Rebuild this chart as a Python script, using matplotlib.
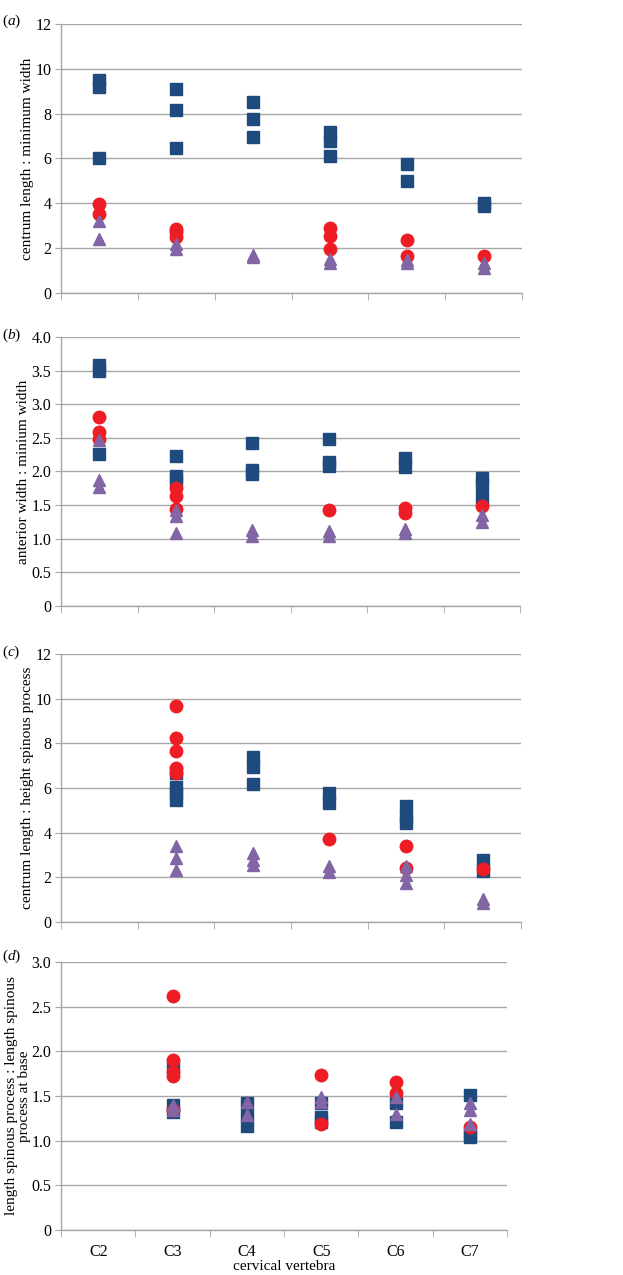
import numpy as np
import matplotlib
matplotlib.use("Agg")
import matplotlib.pyplot as plt

plt.rcParams['font.family'] = ['Liberation Serif', 'DejaVu Serif']
plt.rcParams['mathtext.fontset'] = 'custom'
plt.rcParams['mathtext.it'] = 'Liberation Serif:italic'
plt.rcParams['mathtext.rm'] = 'Liberation Serif'

vertebrae = ['C2', 'C3', 'C4', 'C5', 'C6', 'C7']

# (a) centrum length : minimum width  -- one list of values per vertebra
a_squares = [[9.5, 9.2, 6.0], [9.1, 8.17, 6.46], [8.54, 7.77, 6.95],
             [7.16, 6.76, 6.09], [5.75, 4.98], [4.01, 3.9]]
a_circles = [[3.98, 3.52], [2.85, 2.7, 2.5], [], [2.9, 2.53, 1.96],
             [2.38, 1.66], [1.66]]
a_triangles = [[3.2, 2.4], [2.2, 1.95], [1.7, 1.62], [1.52, 1.34],
               [1.49, 1.34], [1.34, 1.11]]

# (b) anterior width : minium width
b_squares = [[3.58, 3.49, 2.26], [2.23, 1.94, 1.87], [2.43, 2.02, 1.96],
             [2.48, 2.14, 2.08], [2.2, 2.07], [1.9, 1.8, 1.6]]
b_circles = [[2.81, 2.59, 2.49], [1.76, 1.64, 1.44], [], [1.43],
             [1.45, 1.39], [1.48]]
b_triangles = [[2.47, 1.87, 1.77], [1.43, 1.34, 1.09], [1.13, 1.04],
               [1.12, 1.04], [1.15, 1.09], [1.35, 1.25]]

# (c) centrum length : height spinous process
c_squares = [[], [6.65, 6.06, 5.76, 5.46], [7.4, 6.95, 6.18],
             [5.76, 5.34], [5.17, 4.72, 4.42], [2.78, 2.26]]
c_circles = [[], [9.66, 8.22, 7.67, 6.88, 6.68], [], [3.71],
             [3.38, 2.41], [2.37]]
c_triangles = [[], [3.38, 2.86, 2.34], [3.08, 2.78, 2.56], [2.49, 2.23],
               [2.49, 2.11, 1.74], [1.03, 0.85]]

# (d) length spinous process : length spinous process at base
d_squares = [[], [1.83, 1.4, 1.32], [1.42, 1.29, 1.16],
             [1.42, 1.27, 1.21], [1.42, 1.21], [1.51, 1.08, 1.04]]
d_circles = [[], [2.62, 1.9, 1.77, 1.72, 1.34], [], [1.74, 1.19],
             [1.66, 1.53], [1.15]]
d_triangles = [[], [1.4, 1.34], [1.43, 1.29], [1.49, 1.43],
               [1.49, 1.3], [1.42, 1.34, 1.19]]

panels = [
    ('a', 'centrum length : minimum width', a_squares, a_circles, a_triangles,
     12, 2, '{:.0f}'),
    ('b', 'anterior width : minium width', b_squares, b_circles, b_triangles,
     4.0, 0.5, '{:.1f}'),
    ('c', 'centrum length : height spinous process', c_squares, c_circles,
     c_triangles, 12, 2, '{:.0f}'),
    ('d', 'length spinous process : length spinous\nprocess at base',
     d_squares, d_circles, d_triangles, 3.0, 0.5, '{:.1f}'),
]

# axes boxes in figure fractions [left, bottom, width, height]
boxes = [[0.098, 0.7702, 0.740, 0.211],
         [0.098, 0.5247, 0.737, 0.211],
         [0.098, 0.2769, 0.738, 0.2102],
         [0.098, 0.0353, 0.716, 0.2102]]
label_y = [0.990, 0.744, 0.495, 0.257]
ylabel_x = [-0.072, -0.082, -0.072, -0.096]

blue = '#1f4a7e'
red = '#ee1d25'
purple = '#8165a5'
grid_col = '#a6a6a6'

fig = plt.figure(figsize=(6.23, 12.75), dpi=100)

for i, (letter, ylab, sq, ci, tr, ymax, step, fmt) in enumerate(panels):
    ax = fig.add_axes(boxes[i])
    for k in range(len(vertebrae)):
        ax.plot([k] * len(sq[k]), sq[k], 's', color=blue, ms=8.5, mec=blue,
                zorder=3, clip_on=False)
    for k in range(len(vertebrae)):
        ax.plot([k] * len(ci[k]), ci[k], 'o', color=red, ms=9, mec=red,
                zorder=4, clip_on=False)
    for k in range(len(vertebrae)):
        ax.plot([k] * len(tr[k]), tr[k], '^', color=purple, ms=9, mec=purple,
                zorder=5, clip_on=False)

    ax.set_xlim(-0.5, len(vertebrae) - 0.5)
    ax.set_ylim(0, ymax)
    yt = np.arange(0, ymax + step / 2, step)
    ax.set_yticks(yt)
    ax.set_yticklabels(['0'] + [fmt.format(v) for v in yt[1:]])
    ax.yaxis.grid(True, color=grid_col, lw=1)
    ax.set_axisbelow(True)

    ax.set_xticks(np.arange(-0.5, len(vertebrae)), minor=True)
    ax.tick_params(axis='x', which='minor', length=5, color=grid_col,
                   direction='out')
    if letter == 'd':
        ax.set_xticks(range(len(vertebrae)))
        ax.set_xticklabels(vertebrae, fontsize=11.5)
        ax.tick_params(axis='x', which='major', length=0, pad=10)
        ax.set_xlabel('cervical vertebra', fontsize=11, labelpad=0)
    else:
        ax.set_xticks([])

    ax.tick_params(axis='y', length=4, color=grid_col, labelsize=11.5, pad=3)
    for s in ['top', 'right']:
        ax.spines[s].set_visible(False)
    for s in ['left', 'bottom']:
        ax.spines[s].set_color(grid_col)
        ax.spines[s].set_linewidth(1)

    ax.set_ylabel(ylab, fontsize=11, linespacing=1.0, va='center')
    ax.yaxis.set_label_coords(ylabel_x[i], 0.5)
    fig.text(0.003, label_y[i], '($' + letter + '$)', fontsize=11,
             va='top', ha='left')

fig.savefig('out.png', dpi=100)
